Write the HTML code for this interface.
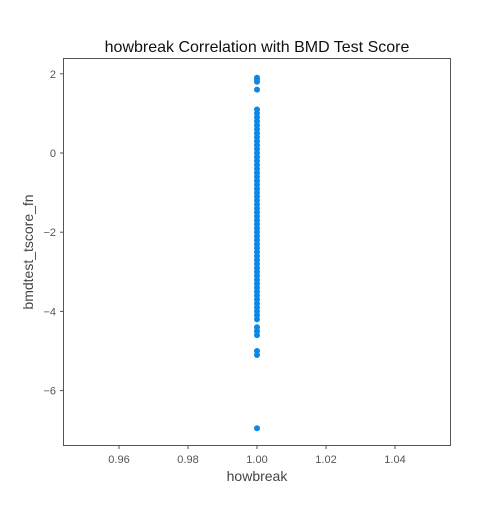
<!DOCTYPE html>
<html><head><meta charset="utf-8"><style>
body{margin:0;background:#fff;}
svg{font-family:"Liberation Sans",sans-serif;}
</style></head><body>
<svg id="chart" width="500" height="500">
<rect x="0" y="0" width="500" height="500" fill="#fff"/>
<text x="257" y="52" text-anchor="middle" font-size="16" fill="#111">howbreak Correlation with BMD Test Score</text>
<rect x="63.5" y="58.5" width="387" height="387" fill="none" stroke="#555" stroke-width="1"/>
<g id="xticks"></g>
<g id="yticks"></g>
<g id="points"></g>
<text x="257" y="481" text-anchor="middle" font-size="14" fill="#444">howbreak</text>
<text x="0" y="0" transform="translate(33,252) rotate(-90)" text-anchor="middle" font-size="14" fill="#444">bmdtest_tscore_fn</text>
</svg>
<script>
const xTicks = [0.96, 0.98, 1.00, 1.02, 1.04];
const xTickLabels = ["0.96", "0.98", "1.00", "1.02", "1.04"];
const yTicks = [2, 0, -2, -4, -6];
const yTickLabels = ["2", "0", "\u22122", "\u22124", "\u22126"];
const pointX = 1.0;
const yValues = [1.9,1.85,1.8,1.6,
1.1,1.0,0.9,0.8,0.7,0.6,0.5,0.4,0.3,0.2,0.1,0.0,-0.1,-0.2,-0.3,-0.4,-0.5,-0.6,-0.7,-0.8,-0.9,-1.0,
-1.1,-1.2,-1.3,-1.4,-1.5,-1.6,-1.7,-1.8,-1.9,-2.0,-2.1,-2.2,-2.3,-2.4,-2.5,-2.6,-2.7,-2.8,-2.9,-3.0,
-3.1,-3.2,-3.3,-3.4,-3.5,-3.6,-3.7,-3.8,-3.9,-4.0,-4.1,-4.2,
-4.4,-4.5,-4.6,-5.0,-5.1,-6.95];
const NS="http://www.w3.org/2000/svg";
function xs(v){return 257+(v-1.0)/0.02*69;}
function ys(v){return 153-v*39.6;}
const xg=document.getElementById('xticks'),yg=document.getElementById('yticks'),pg=document.getElementById('points');
xTicks.forEach((t,i)=>{
 const l=document.createElementNS(NS,'line');
 l.setAttribute('x1',xs(t));l.setAttribute('x2',xs(t));l.setAttribute('y1',445.5);l.setAttribute('y2',449);l.setAttribute('stroke','#555');
 
 
 xg.appendChild(l);
 const tx=document.createElementNS(NS,'text');
 tx.setAttribute('x',xs(t));tx.setAttribute('y',463);tx.setAttribute('text-anchor','middle');tx.setAttribute('font-size','11');tx.setAttribute('fill','#555');
 tx.textContent=xTickLabels[i];
 
 
 xg.appendChild(tx);
});
yTicks.forEach((t,i)=>{
 const l=document.createElementNS(NS,'line');
 l.setAttribute('x1',60);l.setAttribute('x2',63.5);l.setAttribute('y1',ys(t));l.setAttribute('y2',ys(t));l.setAttribute('stroke','#555');
 
 
 yg.appendChild(l);
 const tx=document.createElementNS(NS,'text');
 tx.setAttribute('x',56);tx.setAttribute('y',ys(t)+4);tx.setAttribute('text-anchor','end');tx.setAttribute('font-size','11');tx.setAttribute('fill','#555');
 tx.textContent=yTickLabels[i];
 
 
 yg.appendChild(tx);
});
yValues.forEach(v=>{
 const c=document.createElementNS(NS,'circle');
 c.setAttribute('cx',xs(pointX));c.setAttribute('cy',ys(v));c.setAttribute('r',3);c.setAttribute('fill','#0a88e6');
 
 
 pg.appendChild(c);
});
</script>
</body></html>
